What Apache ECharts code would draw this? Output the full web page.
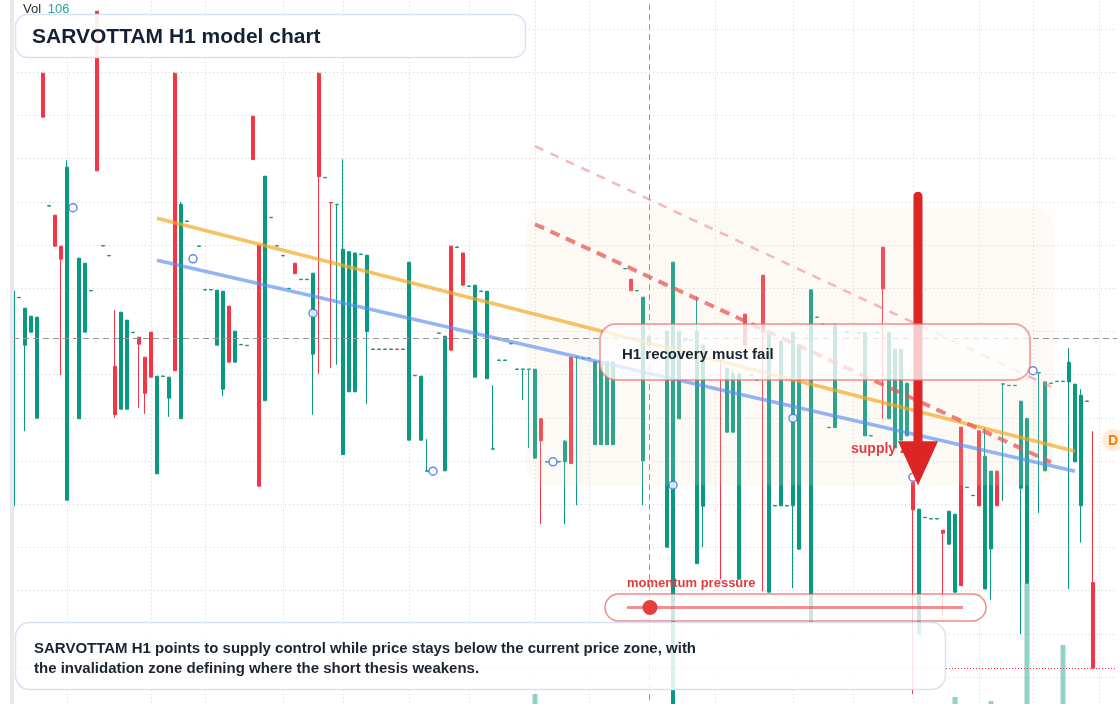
<!DOCTYPE html>
<html><head><meta charset="utf-8">
<script src="https://cdn.jsdelivr.net/npm/echarts/dist/echarts.min.js"></script>
<style>html,body{margin:0;padding:0;background:#fff;}#c{width:1120px;height:704px;}</style>
</head><body><div id="c"></div>
<script>
// ---- data (H1 candles: [open, close, low, high]; null = no bar) ----
const candles = [
[1510.4,1725,1510.4,1725],[1718.5,1718.9,1718.5,1718.9],[1671,1708,1585,1708],[1684,1700,1684,1700],[1598,1699,1598,1699],
[1943,1899,1899,1943],[1810.1,1810.5,1810.1,1810.5],[1801,1770,1770,1801],[1770,1757,1641,1770],[1516,1849,1516,1856],
null,[1597.5,1758,1597.5,1758],[1684,1753,1684,1753],[1725.3,1725.7,1725.3,1725.7],[2005,1845.4,1845.4,2005],
[1770.2,1770.6,1770.2,1770.6],[1760.3,1760.7,1760.3,1760.7],[1650,1601.5,1598.4,1706],[1607,1704,1607,1704],[1607,1696,1607,1696],
[1683.5,1683.9,1683.5,1683.9],[1679,1672,1608,1679],[1659,1623,1602.4,1659],[1684,1639,1639,1684],[1542.3,1640,1542.3,1640],
[1639.8,1640.2,1639.8,1640.2],[1618,1639,1599.3,1639],[1943,1645.5,1645.5,1943],[1597.5,1812,1597.5,1814],[1794.8,1795.2,1794.8,1795.2],
null,[1769.8,1770.2,1769.8,1770.2],[1726.2,1726.6,1726.2,1726.6],[1726.2,1726.6,1726.2,1726.6],[1671,1726,1671,1726],
[1627,1725,1620,1725],[1710,1654,1654,1710],[1654,1685,1654,1685],[1671.4,1671.8,1671.4,1671.8],[1670.5,1670.9,1670.5,1670.9],
[1900,1856.6,1856.6,1900],[1771,1530,1530,1771],[1615.5,1840,1615.5,1840],[1798.5,1798.9,1798.5,1798.9],[1770.2,1770.6,1770.2,1770.6],
[1760.3,1760.7,1760.3,1760.7],[1727.5,1727.9,1727.5,1727.9],[1753,1742.5,1742.5,1753],[1736.5,1736.9,1736.5,1736.9],[1736.5,1736.9,1736.5,1736.9],
[1662,1743,1601.5,1743],[1943,1839.5,1642.4,1943],[1838.4,1838.8,1838.4,1838.8],[1813.7,1813.3,1648,1813.7],[1811.5,1811.9,1651.4,1811.9],
[1561.6,1767,1561.6,1857],[1624.4,1764.5,1624.4,1764.5],[1624.4,1763.2,1624.4,1763.2],[1761.8,1762.2,1761.8,1762.2],[1684.6,1761,1612.3,1761],
[1666.8,1667.2,1666.8,1667.2],[1666.8,1667.2,1666.8,1667.2],[1666.8,1667.2,1666.8,1667.2],[1666.8,1667.2,1666.8,1667.2],[1667.2,1666.8,1666.8,1667.2],
[1666.8,1667.2,1666.8,1667.2],[1576,1754,1576,1754],[1640.4,1640.8,1640.4,1640.8],[1576,1640,1576,1640],[1545,1545.4,1545,1577],
null,[1682.8,1683.2,1682.8,1683.2],[1545.4,1680,1545.4,1680],[1770,1666,1666,1770],[1768.8,1769.2,1768.8,1769.2],
[1763.2,1731,1731,1763.2],[1729.8,1730.2,1729.8,1730.2],[1639,1731,1639,1731],[1724.8,1725.2,1724.8,1725.2],[1637.5,1725,1637.5,1725],
[1567,1567.4,1567,1631],[1655.8,1656.2,1655.8,1656.2],[1655.8,1656.2,1655.8,1656.2],[1672.3,1672.7,1672.3,1672.7],[1646.8,1647.2,1646.8,1647.2],
[1646.8,1647.2,1616,1647.2],[1646.8,1647.2,1568,1647.2],[1558,1647,1558,1647],[1597.5,1575.5,1492,1597.5],[1554.2,1554.6,1554.2,1554.6],
null,[1554.2,1554.6,1554.2,1554.6],[1554.4,1575,1492,1576],[1659,1552.6,1552.6,1659],[1658.8,1659.2,1511,1659.2],
[1657.8,1658.2,1657.8,1658.2],[1657.8,1658.2,1657.8,1658.2],[1571.5,1654.5,1571.5,1654.5],[1571.5,1654.5,1571.5,1654.5],[1571.5,1654.5,1571.5,1654.5],
[1571.5,1654.5,1571.5,1654.5],null,[1747.3,1747.7,1747.3,1747.7],[1737,1725.5,1725.5,1737],[1725.3,1725.7,1725.3,1725.7],
[1555.3,1719,1511,1719],[1671,1680,1671,1680],null,null,[1469,1685,1469,1685],
[1304,1754,1304,1754],[1597.5,1685,1597.5,1685],[1675.8,1676.2,1675.8,1676.2],[1675.8,1676.2,1675.8,1676.2],[1452.5,1685,1452.5,1719.6],
[1510,1671,1469,1671],null,null,[1656.2,1655.8,1437,1656.2],[1584,1648,1584,1648],
[1584,1642.4,1584,1647],[1437,1642.4,1437,1642.4],[1702,1671,1671,1702],[1640.8,1641.2,1640.8,1641.2],[1635.8,1636.2,1635.8,1636.2],
[1741,1684,1425,1741],[1424,1681.5,1424,1681.5],[1510.2,1510.6,1510.2,1510.6],[1510.4,1675,1510.4,1675],[1510.2,1510.6,1510.2,1510.6],
[1510.4,1684,1428,1684],[1467,1671,1467,1671],null,[1395,1726.4,1395,1726.4],[1698.8,1699.2,1698.8,1699.2],
[1691.8,1692.2,1691.8,1692.2],[1588.5,1588.9,1588.5,1588.9],[1588.7,1692,1588.7,1692],null,[1683.8,1684.2,1683.8,1684.2],
null,[1683.1,1683.5,1683.1,1683.5],[1580.4,1684,1580.4,1684],[1580.2,1580.6,1580.2,1580.6],[1683.5,1683.9,1683.5,1683.9],
[1769,1727.3,1597.5,1769],[1597.5,1684,1597.5,1684],[1568.3,1667,1568.3,1667],[1576,1667,1576,1667],[1580.4,1633,1580.4,1633],
[1534,1506.4,1322.3,1534],[1382,1507,1382,1507],[1498.5,1498.9,1498.5,1498.9],[1497.2,1497.6,1497.2,1497.6],[1497.2,1497.6,1497.2,1497.6],
[1486,1483,1401,1486],[1472,1505,1472,1505],[1424,1502,1424,1502],[1589,1430.5,1430.5,1589],[1528.6,1529,1528.6,1529],
[1520.5,1520.9,1520.5,1520.9],[1585.4,1510.4,1510.4,1585.4],[1427.3,1560,1427.3,1588.5],[1467.3,1545,1416.5,1545],[1545,1510.4,1510.4,1545],
[1632,1632.4,1515.3,1632.4],[1630.5,1630.9,1630.5,1630.9],[1630.5,1630.9,1630.5,1630.9],[1528,1615,1382,1615],[1433,1597.5,1433,1598.4],
null,[1643.3,1643.7,1503.2,1643.7],[1545.4,1634.3,1545.4,1634.3],[1632.8,1633.2,1632.8,1633.2],[1634.6,1635,1634.6,1635],
[1634.6,1635,1634.6,1635],[1634.3,1654,1427,1668],[1554.4,1632,1554.4,1632],[1510.4,1621,1473.6,1627],[1614.8,1615.2,1614.8,1615.2],
[1433.6,1348,1348,1585],null,null,null,null
];
const categories = candles.map((_, i) => 'H' + i);
const volumePoints = [[87,10],[157,7],[163,3],[169,121],[175,59]];
const signalPoints = [[10,1808.5],[30,1757.4],[50,1703],[70,1545],[90,1554.4],[110,1531],[130,1598],[150,1539],[170,1645.5]];
const orangeTrend = [[24,1798],[177,1565]];
const blueTrend = [[24,1756],[177,1545]];
const resistanceStrong = [[87,1792],[173,1554]];
const resistanceSoft = [[87,1870],[173,1629.5]];
const crosshairPrice = 1678;
const crosshairIndex = 106;
const lastClose = 1348;
const supplyZoneIdx = [86, 173];
const supplyZonePrice = [1531, 1809];
const arrowIdx = 151;
const arrowPrice = [1820, 1575, 1531]; // start, head base, tip
const timeGridIdx = [9,23,32,45,55,66,76,87,96,117,130,140,150,161,170,181];
const volumeLabel = 106;

const UP = '#089981', DOWN = '#f23645';
const FONT = '"Liberation Sans", Arial, Helvetica, sans-serif';
const gridSet = new Set(timeGridIdx);

const candleData = candles.map(c => c ? c : '-');
const volData = candles.map(() => 0);
volumePoints.forEach(([i, v]) => { volData[i] = v; });
const volSeriesData = volData.map((v, i) => {
  const c = candles[i];
  const up = !c || c[1] >= c[0];
  return { value: v, itemStyle: { color: up ? 'rgba(8,153,129,0.44)' : 'rgba(242,54,69,0.44)' } };
});

const chart = echarts.init(document.getElementById('c'), null, { renderer: 'canvas' });
const gridLine = { color: '#cfcfcf', width: 1, type: [1, 3] };
chart.setOption({
  animation: false,
  backgroundColor: '#ffffff',
  grid: [
    { left: 13, right: 3, top: -14.2, bottom: -16.2, outerBoundsMode: 'none', containLabel: false },
    { left: 13, right: 3, top: 504, bottom: 0, outerBoundsMode: 'none', containLabel: false }
  ],
  xAxis: [
    { type: 'category', data: categories, boundaryGap: false, gridIndex: 0,
      axisLine: { show: false }, axisTick: { show: false }, axisLabel: { show: false },
      splitLine: { show: true, interval: (idx) => gridSet.has(idx), lineStyle: gridLine } },
    { type: 'category', data: categories, boundaryGap: false, gridIndex: 1, show: false }
  ],
  yAxis: [
    { type: 'value', gridIndex: 0, min: 1296, max: 2030.4, interval: 43.2,
      axisLine: { show: false }, axisTick: { show: false }, axisLabel: { show: false },
      splitLine: { show: true, lineStyle: gridLine } },
    { type: 'value', gridIndex: 1, min: 0, max: 200, show: false, splitLine: { show: false } }
  ],
  series: [
    { type: 'bar', xAxisIndex: 1, yAxisIndex: 1, data: volSeriesData, barWidth: 5, z: 1, silent: true },
    { type: 'candlestick', data: candleData, barWidth: 4, z: 2, silent: true,
      itemStyle: { color: UP, color0: DOWN, borderColor: UP, borderColor0: DOWN, borderWidth: 1 },
      markLine: { silent: true, symbol: ['none', 'none'], label: { show: false }, z: 5, animation: false,
        data: [
          { yAxis: crosshairPrice, lineStyle: { color: '#959595', type: [6, 4], width: 1 } },
          { xAxis: categories[crosshairIndex], lineStyle: { color: '#959595', type: [6, 4], width: 1 } },
          { yAxis: lastClose, lineStyle: { color: DOWN, type: [1, 2], width: 1 } }
        ] } },
    { type: 'line', data: orangeTrend, symbol: 'none', silent: true, z: 4,
      lineStyle: { color: '#f5a623', width: 3.5, opacity: 0.7 } },
    { type: 'line', data: blueTrend, symbol: 'none', silent: true, z: 4,
      lineStyle: { color: '#5b8def', width: 3.5, opacity: 0.65 } },
    { type: 'line', data: resistanceStrong, symbol: 'none', silent: true, z: 4,
      lineStyle: { color: '#e85555', width: 4, opacity: 0.75, type: [10, 7] } },
    { type: 'line', data: resistanceSoft, symbol: 'none', silent: true, z: 4,
      lineStyle: { color: '#f08080', width: 2.5, opacity: 0.55, type: [9, 8] } },
    { type: 'scatter', data: signalPoints, symbol: 'circle', symbolSize: 8, silent: true, z: 4,
      itemStyle: { color: '#ffffff', borderColor: '#3b6cf0', borderWidth: 1.5 } }
  ]
});

function px(i, p) { return chart.convertToPixel({ gridIndex: 0 }, [i, p]); }
const z1 = px(supplyZoneIdx[0], supplyZonePrice[1]);
const z2 = px(supplyZoneIdx[1], supplyZonePrice[0]);
const a0 = px(arrowIdx, arrowPrice[0]);
const a1 = px(arrowIdx, arrowPrice[1]);
const a2 = px(arrowIdx, arrowPrice[2]);
const ax = a0[0] - 1;

chart.setOption({
  graphic: [
    { type: 'rect', z: 3, silent: true,
      shape: { x: z1[0] - 3, y: z1[1], width: z2[0] - z1[0] + 6, height: z2[1] - z1[1], r: 20 },
      style: { fill: 'rgba(244,222,200,0.16)' } },
    { type: 'text', z: 5, silent: true, style: { x: 851, y: 449, text: 'supply zone', font: 'bold 14px ' + FONT, fill: '#e23b45', verticalAlign: 'middle' } },
    { type: 'line', z: 6, silent: true, shape: { x1: ax, y1: a0[1], x2: ax, y2: a1[1] + 4 },
      style: { stroke: '#dc2626', lineWidth: 9, lineCap: 'round' } },
    { type: 'polygon', z: 6, silent: true, shape: { points: [[ax - 20, a1[1]], [ax + 20, a1[1]], [ax, a2[1]]] },
      style: { fill: '#dc2626' } },
    // H1 recovery box
    { type: 'rect', z: 7, silent: true, shape: { x: 600, y: 324, width: 430, height: 56, r: 16 },
      style: { fill: 'rgba(255,255,255,0.76)', stroke: 'rgba(236,110,110,0.6)', lineWidth: 2 } },
    { type: 'text', z: 8, silent: true, style: { x: 622, y: 354.5, text: 'H1 recovery must fail', font: 'bold 15px ' + FONT, fill: '#1b2433', verticalAlign: 'middle' } },
    // momentum pill
    { type: 'text', z: 8, silent: true, style: { x: 627, y: 583, text: 'momentum pressure', font: 'bold 13px ' + FONT, fill: '#e03c3c', verticalAlign: 'middle' } },
    { type: 'rect', z: 7, silent: true, shape: { x: 605, y: 594, width: 381, height: 27, r: 13.5 },
      style: { fill: 'rgba(255,255,255,0.78)', stroke: 'rgba(230,76,76,0.65)', lineWidth: 1.5 } },
    { type: 'line', z: 8, silent: true, shape: { x1: 627, y1: 607.5, x2: 963, y2: 607.5 },
      style: { stroke: 'rgba(228,72,72,0.6)', lineWidth: 3 } },
    { type: 'circle', z: 8, silent: true, shape: { cx: 650, cy: 607.5, r: 7.5 }, style: { fill: '#e53e3e' } },
    // title box
    { type: 'rect', z: 7, silent: true, shape: { x: 15.5, y: 14.5, width: 510, height: 43, r: 12 },
      style: { fill: 'rgba(255,255,255,0.92)', stroke: '#d5e2f6', lineWidth: 1.5 } },
    { type: 'text', z: 8, silent: true, style: { x: 32, y: 37, text: 'SARVOTTAM H1 model chart', font: 'bold 21px ' + FONT, fill: '#142033', verticalAlign: 'middle' } },
    // bottom summary box
    { type: 'rect', z: 7, silent: true, shape: { x: 15.5, y: 622.5, width: 930, height: 67, r: 14 },
      style: { fill: 'rgba(255,255,255,0.86)', stroke: '#d5e2f6', lineWidth: 1.5 } },
    { type: 'text', z: 8, silent: true, style: { x: 34, y: 648.5, text: 'SARVOTTAM H1 points to supply control while price stays below the current price zone, with', font: 'bold 15px ' + FONT, fill: '#1b2433', verticalAlign: 'middle' } },
    { type: 'text', z: 8, silent: true, style: { x: 34, y: 668.5, text: 'the invalidation zone defining where the short thesis weakens.', font: 'bold 15px ' + FONT, fill: '#1b2433', verticalAlign: 'middle' } },
    // volume label
    { type: 'text', z: 8, silent: true, style: { x: 23, y: 9, text: '{a|Vol}  {b|' + volumeLabel + '}', verticalAlign: 'middle',
      rich: { a: { font: '13px ' + FONT, fill: '#2b2b2b' }, b: { font: '13px ' + FONT, fill: '#26a69a' } } } },
    // D badge
    { type: 'circle', z: 8, silent: true, shape: { cx: 1113, cy: 440, r: 11 }, style: { fill: 'rgba(251,170,90,0.22)' } },
    { type: 'text', z: 9, silent: true, style: { x: 1113, y: 441, text: 'D', font: 'bold 14px ' + FONT, fill: '#f57c00', align: 'center', verticalAlign: 'middle' } },
    // left strip
    { type: 'rect', z: 9, silent: true, shape: { x: 10, y: 0, width: 4, height: 704 }, style: { fill: '#e9e9e9' } }
  ]
});
</script></body></html>
